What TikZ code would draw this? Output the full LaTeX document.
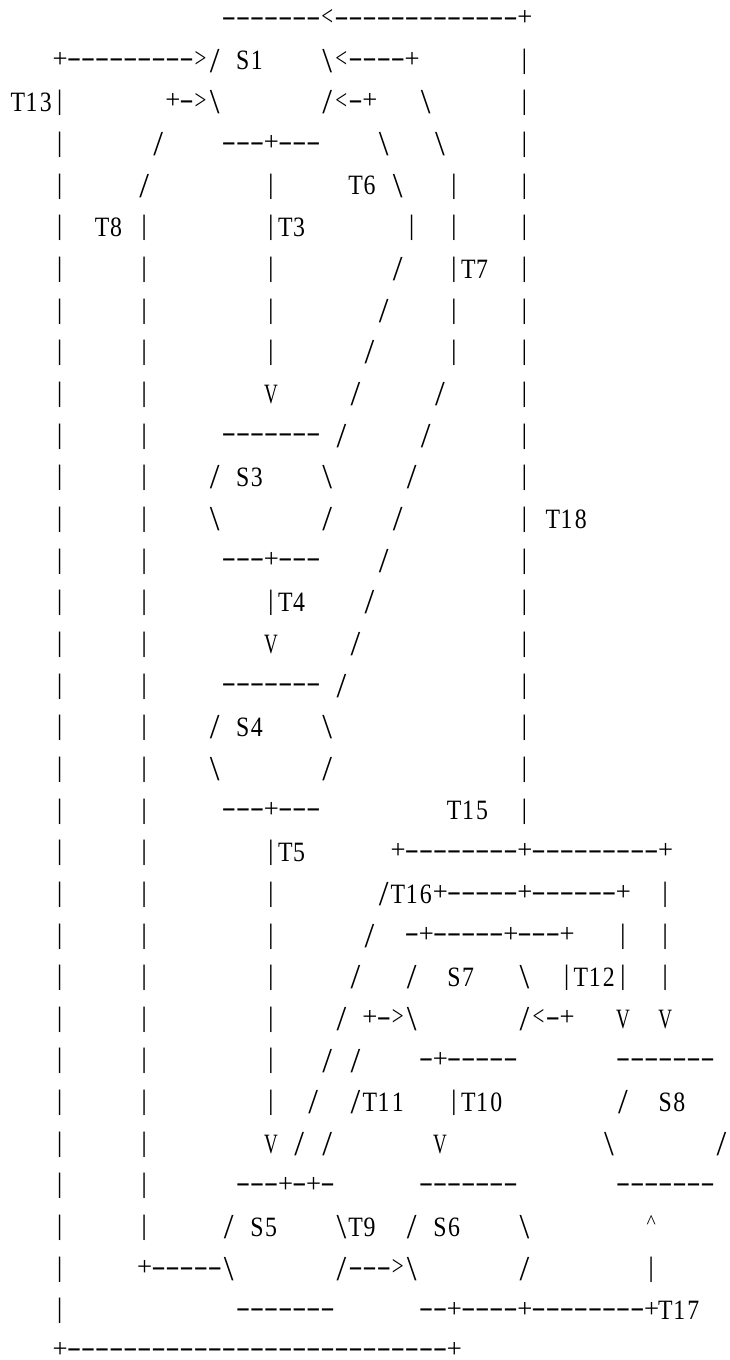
\documentclass[tikz,border=0pt]{standalone}
\usepackage{fontspec}
\setmainfont{Liberation Serif}
\usepackage{graphicx}
\newlength\rkcw
\setlength\rkcw{14.08pt}
\newcommand\rkdash{\raisebox{3pt}{\scalebox{1.55}[1]{-}}}
\newcommand\rkplus{\raisebox{2.6pt}{\scalebox{0.95}{+}}}
\newcommand\rkbar{\raisebox{1.8pt}{|}}
\newcommand\rkslash[1]{\raisebox{-2.3pt}{\scalebox{1.25}{#1}}}
\newcommand\rkangle[1]{\raisebox{2.4pt}{\scalebox{0.75}[1]{#1}}}
\newcommand\rkletter[1]{\scalebox{0.85}[1]{#1}}
\newcommand\rkvee{\scalebox{0.68}[1]{V}}
\newcommand\rkhat{\raisebox{8pt}{\scalebox{0.7}{\textasciicircum}}}
\ExplSyntaxOn
\cs_new_protected:Npn \rk_cell:n #1
  {
    \hbox_to_wd:nn { \rkcw }
      {
        \hfil
        \str_case:nnF {#1}
          {
            {.} { }
            {!} { \rkslash{\textbackslash} }
            {/} { \rkslash{/} }
            {-} { \rkdash }
            {+} { \rkplus }
            {<} { \rkangle{<} }
            {>} { \rkangle{>} }
            {|} { \rkbar }
            {^} { \rkhat }
            {V} { \rkvee }
          }
          { \rkletter {#1} }
        \hfil
      }
  }
\NewDocumentCommand \asciirow { m } { \tl_map_function:nN {#1} \rk_cell:n }
\ExplSyntaxOff
\tikzset{rowtext/.style={anchor=base west, inner sep=0pt, outer sep=0pt, font=\fontsize{28pt}{28pt}\selectfont}}
\begin{document}
\begin{tikzpicture}[x=1pt,y=-1pt]
\useasboundingbox[fill=white] (0,0) rectangle (729,1360);
\node[rowtext] (r0)  at (10.5,28.27)   {\asciirow{...............-------<-------------+}};
\node[rowtext] (r1)  at (10.5,69.93)   {\asciirow{...+--------->/.S1....!<----+.......|}};
\node[rowtext] (r2)  at (10.5,111.59)  {\asciirow{T13|.......+->!......./<-+...!......|}};
\node[rowtext] (r3)  at (10.5,153.25)  {\asciirow{...|....../....---+---....!...!.....|}};
\node[rowtext] (r4)  at (10.5,194.91)  {\asciirow{...|...../........|.....T6.!...|....|}};
\node[rowtext] (r5)  at (10.5,236.57)  {\asciirow{...|..T8.|........|T3.......|..|....|}};
\node[rowtext] (r6)  at (10.5,278.23)  {\asciirow{...|.....|........|......../...|T7..|}};
\node[rowtext] (r7)  at (10.5,319.89)  {\asciirow{...|.....|........|......./....|....|}};
\node[rowtext] (r8)  at (10.5,361.55)  {\asciirow{...|.....|........|....../.....|....|}};
\node[rowtext] (r9)  at (10.5,403.21)  {\asciirow{...|.....|........V...../...../.....|}};
\node[rowtext] (r10) at (10.5,444.87)  {\asciirow{...|.....|.....-------./...../......|}};
\node[rowtext] (r11) at (10.5,486.53)  {\asciirow{...|.....|..../.S3....!...../.......|}};
\node[rowtext] (r12) at (10.5,528.19)  {\asciirow{...|.....|....!......./..../........|.T18}};
\node[rowtext] (r13) at (10.5,569.85)  {\asciirow{...|.....|.....---+---..../.........|}};
\node[rowtext] (r14) at (10.5,611.51)  {\asciirow{...|.....|........|T4..../..........|}};
\node[rowtext] (r15) at (10.5,653.17)  {\asciirow{...|.....|........V...../...........|}};
\node[rowtext] (r16) at (10.5,694.83)  {\asciirow{...|.....|.....-------./............|}};
\node[rowtext] (r17) at (10.5,736.49)  {\asciirow{...|.....|..../.S4....!.............|}};
\node[rowtext] (r18) at (10.5,778.15)  {\asciirow{...|.....|....!......./.............|}};
\node[rowtext] (r19) at (10.5,819.81)  {\asciirow{...|.....|.....---+---.........T15..|}};
\node[rowtext] (r20) at (10.5,861.47)  {\asciirow{...|.....|........|T5......+--------+---------+}};
\node[rowtext] (r21) at (10.5,903.13)  {\asciirow{...|.....|........|......./T16+-----+------+..|}};
\node[rowtext] (r22) at (10.5,944.79)  {\asciirow{...|.....|........|....../..-+-----+---+...|..|}};
\node[rowtext] (r23) at (10.5,986.45)  {\asciirow{...|.....|........|...../.../..S7...!..|T12|..|}};
\node[rowtext] (r24) at (10.5,1028.11) {\asciirow{...|.....|........|..../.+->!......./<-+...V..V}};
\node[rowtext] (r25) at (10.5,1069.77) {\asciirow{...|.....|........|..././....-+-----.......-------}};
\node[rowtext] (r26) at (10.5,1111.43) {\asciirow{...|.....|........|../../T11...|T10......../..S8}};
\node[rowtext] (r27) at (10.5,1153.09) {\asciirow{...|.....|........V././.......V...........!......./}};
\node[rowtext] (r28) at (10.5,1194.75) {\asciirow{...|.....|......---+-+-......-------.......-------}};
\node[rowtext] (r29) at (10.5,1236.41) {\asciirow{...|.....|...../.S5....!T9../.S6....!........^}};
\node[rowtext] (r30) at (10.5,1278.07) {\asciirow{...|.....+-----!......./--->!......./........|}};
\node[rowtext] (r31) at (10.5,1319.73) {\asciirow{...|............-------......--+----+--------+T17}};
\node[rowtext] (r32) at (10.5,1359.6)  {\asciirow{...+---------------------------+}};
\end{tikzpicture}
\end{document}
